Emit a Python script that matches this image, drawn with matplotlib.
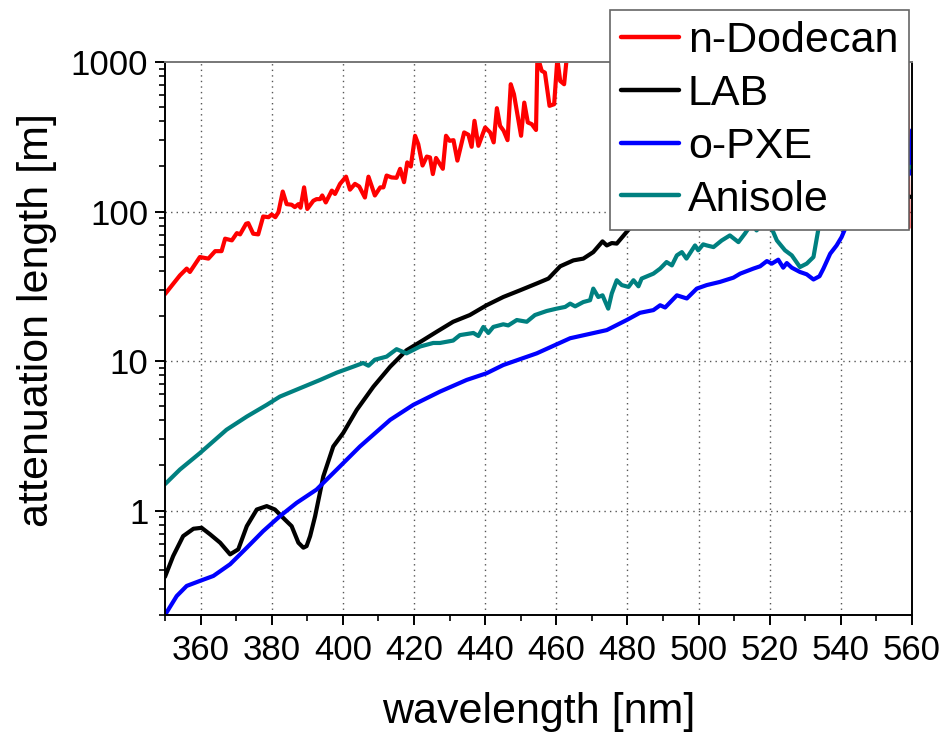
import matplotlib
matplotlib.use("Agg")
import matplotlib.pyplot as plt
from matplotlib.ticker import MultipleLocator, LogLocator, FixedLocator, FixedFormatter, NullFormatter

plt.rcParams['font.family'] = ['Liberation Sans', 'DejaVu Sans']

# ---------------- data ----------------
red_wl = [350, 350.5, 354.2, 356.1, 357, 359.8, 362.2, 364.1, 365.9, 366.9, 368.8, 370.2, 371.1, 372.8,
          373.4, 374.8, 376.2, 377.6, 379.1, 380, 381, 381.9, 383.1, 384.2, 385.6, 386.5, 387.5, 388.1,
          389.1, 390, 391.7, 392.6, 393.6, 394.2, 395.2, 396.9, 397.8, 399.2, 400.9, 402, 403.4, 404.6,
          406.2, 407.2, 409, 410.5, 411.4, 412.3, 413.7, 415.1, 416.1, 417.2, 418.1, 419.1, 420.3, 421.2,
          422.4, 423.6, 424.5, 425.3, 426.2, 428.1, 429, 430, 431.1, 432.2, 434.1, 435.3, 436.2, 437,
          438.1, 440, 441.4, 442.4, 443.3, 444.2, 445.2, 446.3, 447.2, 448.1, 450.1, 451, 452, 453.1,
          454.3, 454.7, 455.9, 456.8, 458.1, 459.4, 460.3, 461.1, 462.2, 463, 470, 500, 540, 558.5, 559.0]
red_val = [28, 29, 37.4, 41.5, 39.4, 49.6, 48.4, 54.3, 54.3, 65.8, 64.1, 71.7, 70.3, 82.8,
           83.6, 71, 70.3, 92.6, 91.6, 95.5, 91.6, 99, 136, 112, 111, 107, 112, 106,
           145, 104, 118, 121, 121, 128, 115, 138, 131, 153, 171, 140, 153, 147,
           124, 171, 128, 145, 145, 174, 169, 168, 193, 157, 213, 200, 321, 282,
           203, 233, 230, 178, 228, 193, 321, 297, 300, 219, 338, 326, 271, 404,
           275, 365, 338, 290, 491, 374, 347, 300, 710, 609, 321, 535, 394, 384,
           351, 1100, 873, 849, 509, 522, 1050, 747, 710, 1100, 2000, 3000, 3000, 2000, 78]

lab_wl = [350, 352.3, 355.1, 358, 360.3, 362.7, 365.5, 368.3, 370.6, 373, 375.8, 378.6, 380.9, 383.7,
          385.6, 387.5, 388.9, 389.8, 390.8, 392.2, 394.5, 397.3, 400.1, 403.9, 408.6, 413.3, 417.9,
          422.6, 426.4, 431, 435.7, 440.4, 445.1, 449.8, 454.5, 457.8, 461.1, 464.8, 467.6, 470.4, 473,
          474.2, 475.6, 477, 480.7, 485, 495, 510, 530, 550, 560]
lab_val = [0.36, 0.496, 0.674, 0.755, 0.766, 0.692, 0.609, 0.509, 0.55, 0.786, 1.015, 1.07, 1.015, 0.87,
           0.786, 0.609, 0.564, 0.578, 0.674, 0.916, 1.69, 2.68, 3.3, 4.71, 6.74, 9.16, 11.8,
           13.8, 15.7, 18.3, 20.3, 23.6, 26.8, 29.7, 33, 35.6, 43, 47.1, 48.4, 53.5, 63.1,
           59.3, 61.5, 61, 77.5, 95, 115, 135, 145, 135, 125]

pxe_wl = [350, 353.3, 356.1, 359.8, 363.6, 368.3, 373, 377.6, 382.3, 387, 392.6, 398.3, 404.8, 413.3,
          419.8, 427.3, 434.8, 440.4, 445.1, 454.5, 463.9, 474.2, 479.8, 483.5, 487.3, 489.2, 490.6,
          493.9, 496.7, 499.5, 502.3, 506, 509.8, 511.7, 515.4, 517.3, 519.2, 520.6, 522.4, 523.8,
          524.8, 526.2, 528.5, 530.4, 532.3, 534, 535.1, 537, 538.8, 540.2, 541.2, 545, 550, 555,
          559.2, 560]
pxe_val = [0.2, 0.268, 0.313, 0.338, 0.365, 0.437, 0.564, 0.728, 0.916, 1.125, 1.38, 1.88, 2.68, 4.04,
           5.09, 6.24, 7.47, 8.28, 9.4, 11.25, 14.2, 16.1, 18.8, 21, 21.9, 23.6, 22.8,
           27.5, 26.2, 30.5, 32.2, 33.8, 36.1, 38.4, 41.5, 43, 46.6, 44.8, 47.6, 42.1,
           45.2, 42.1, 39.4, 38, 35.1, 36.9, 41.5, 52.2, 59.3, 67.4, 76.7, 100, 130, 160,
           178, 350]

ani_wl = [350, 354.2, 359.8, 367.3, 373, 378.6, 382.3, 388, 393.6, 398.3, 402.9, 405.7, 407.2, 409,
          412.3, 415.1, 417.9, 421.7, 425.4, 427.3, 431, 432.9, 436.7, 438.1, 439.5, 440.9, 442.3,
          445.1, 446.5, 448.9, 451.7, 454, 457.3, 460.1, 462.5, 463.9, 465.3, 467.6, 469.5, 470.4,
          471.8, 473, 474.6, 475.6, 477, 478.4, 480.3, 481.7, 483.1, 484, 487.3, 489.2, 491, 492.5,
          493.9, 495.3, 496.6, 499, 499.9, 501.3, 502.3, 504.2, 506.5, 508.8, 511.2, 513, 514.9,
          516.3, 518.5, 520.6, 522, 524.3, 526.2, 528.5, 530.4, 532.3, 533.7, 536, 545, 555, 560]
ani_val = [1.5, 1.88, 2.42, 3.47, 4.25, 5.09, 5.78, 6.58, 7.47, 8.36, 9.16, 9.7, 9.3, 10.2,
           10.7, 12, 11.25, 12.5, 13.2, 13.2, 13.7, 14.9, 15.4, 14.7, 16.9, 15.4, 16.9,
           17.6, 17.3, 18.8, 18.3, 20.3, 21.6, 22.4, 23, 24.2, 23.2, 24.8, 25.5, 30.5,
           26.8, 27.5, 22.4, 28.3, 34.7, 32.2, 31.3, 34.7, 31.6, 35.6, 38.4, 41.5, 45.9, 43.6,
           50.9, 53.5, 48.4, 59.3, 55, 60.3, 59.3, 57.8, 64, 69.2, 62.4, 71, 82.8,
           74.7, 85, 76.7, 64.1, 55, 50.9, 42.5, 44.8, 49.6, 76.7, 110, 150, 180, 200]

series_names = ["n-Dodecan", "LAB", "o-PXE", "Anisole"]
series_colors = ["#FF0000", "#000000", "#0000FF", "#008080"]

x_ticks = [360, 380, 400, 420, 440, 460, 480, 500, 520, 540, 560]
y_ticks = [1, 10, 100, 1000]
y_tick_labels = ["1", "10", "100", "1000"]

# ---------------- figure ----------------
W, H = 943, 735
fig = plt.figure(figsize=(W / 100, H / 100), dpi=100)
L, R, T, B = 165, 912, 62, 615
ax = fig.add_axes([L / W, 1 - B / H, (R - L) / W, (B - T) / H])

data = [(red_wl, red_val), (lab_wl, lab_val), (pxe_wl, pxe_val), (ani_wl, ani_val)]
for (wl, val), name, c in zip(data, series_names, series_colors):
    ax.plot(wl, val, color=c, lw=3.0, label=name, solid_joinstyle='round',
            solid_capstyle='round', clip_on=True)

ax.set_yscale('log')
ax.set_xlim(350, 560)
ax.set_ylim(0.2, 1000)

ax.xaxis.set_major_locator(FixedLocator(x_ticks))
ax.xaxis.set_minor_locator(MultipleLocator(10))
ax.yaxis.set_major_locator(FixedLocator(y_ticks))
ax.yaxis.set_major_formatter(FixedFormatter(y_tick_labels))
ax.yaxis.set_minor_locator(LogLocator(base=10, subs=range(2, 10)))
ax.yaxis.set_minor_formatter(NullFormatter())

ax.tick_params(axis='both', which='major', direction='out', length=7, width=1.4,
               labelsize=25, pad=5, colors='black')
ax.tick_params(axis='both', which='minor', direction='out', length=4, width=1.2)
ax.tick_params(axis='x', which='major', pad=7)

# grid (dotted)
for xv in x_ticks[:-1]:
    ax.axvline(xv, color='#555555', lw=1.0, ls=(0, (1, 3)), zorder=0.5)
for yv in [1, 10, 100]:
    ax.axhline(yv, color='#555555', lw=1.0, ls=(0, (1, 3)), zorder=0.5)

for s in ['left', 'bottom', 'right']:
    ax.spines[s].set_color('black')
    ax.spines[s].set_linewidth(1.4)
ax.spines['top'].set_color('#777777')
ax.spines['top'].set_linewidth(1.4)

ax.set_xlabel("wavelength [nm]", fontsize=31)
ax.set_ylabel("attenuation length [m]", fontsize=31)
ax.xaxis.label.set_va('center')
ax.yaxis.label.set_va('center')
ax.xaxis.set_label_coords(0.5, (B - 712) / (B - T))
ax.yaxis.set_label_coords((37 - L) / (R - L), (B - 320) / (B - T))

leg = fig.legend(loc='upper right', bbox_to_anchor=(909 / W, 1 - 10 / H),
                 fontsize=31, frameon=True, fancybox=False, shadow=False,
                 handlelength=1.35, handletextpad=0.2, borderpad=0.25,
                 labelspacing=0.3, borderaxespad=0)
leg.set_zorder(10)
leg.get_frame().set_edgecolor('#666666')
leg.get_frame().set_linewidth(1.2)
leg.get_frame().set_alpha(1)
for line in leg.get_lines():
    line.set_linewidth(3.2)

fig.savefig("out.png", dpi=100)
